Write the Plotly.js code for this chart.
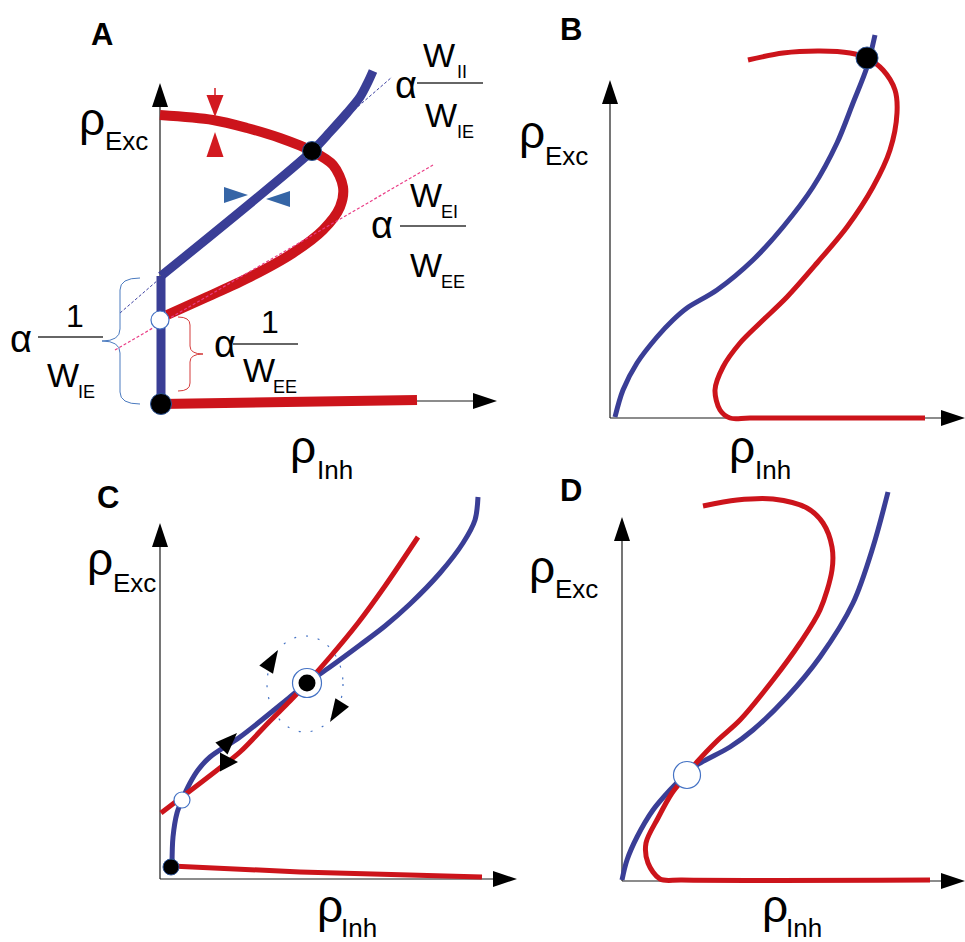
<!DOCTYPE html>
<html>
<head>
<meta charset="utf-8">
<script src="https://cdn.plot.ly/plotly-3.0.1.min.js"></script>
<style>html,body{margin:0;padding:0;background:#fff}</style>
</head>
<body>
<div id="fig" style="width:965px;height:942px"></div>
<script>
// Phase-plane sketches of the E/I rate model: rho_Inh on x, rho_Exc on y.
// All values are in schematic rate units (origin of each panel = 0).

// ---- Panel A: threshold-linear nullclines ----
const aExcNullInh  = [0, 53, 87, 120, 152, 173, 183, 180, 163, 133, 90, 47, 7];
const aExcNullExc  = [286, 281, 273, 263, 250, 236, 214, 194, 171, 148, 124, 104, 86];
const aExcFloorInh = [1, 257];
const aExcFloorExc = [-3, 1];
const aInhWallInh  = [1, 1];
const aInhWallExc  = [-3, 125];
const aInhNullInh  = [1, 152, 170, 187, 200, 208, 213];
const aInhNullExc  = [125, 250, 269, 288, 304, 319, 330];
const aInhSlopeInh = [-40, 232];   // slope alpha*W_II/W_IE
const aInhSlopeExc = [88, 324];
const aExcSlopeInh = [-45, 273];   // slope alpha*W_EI/W_EE
const aExcSlopeExc = [51, 236];
const aQuietInh    = [1];
const aQuietExc    = [-3];
const aActiveInh   = [152];
const aActiveExc   = [250];
const aSaddleInh   = [0];
const aSaddleExc   = [81];

// ---- Panel B: single high-activity fixed point ----
const bInhNullInh = [5, 13, 27, 47, 63, 77, 107, 143, 173, 203, 227, 243, 257, 265];
const bInhNullExc = [1, 28, 55, 81, 98, 110, 128, 158, 191, 231, 275, 315, 351, 383];
const bExcNullInh = [138, 173, 210, 240, 257, 273, 285, 287, 280, 263, 237, 207, 177, 150, 130, 113, 105, 110, 120, 140, 315];
const bExcNullExc = [358, 365, 367, 365, 360, 348, 328, 305, 268, 231, 191, 155, 121, 95, 75, 51, 28, 8, 0, 0, 0];
const bStableInh  = [257];
const bStableExc  = [360];

// ---- Panel C: low state, saddle and focus ----
const cExcFloorInh = [11, 140, 322];
const cExcFloorExc = [13, 7, 2];
const cExcNullInh  = [1, 22, 56, 80, 110, 130, 147, 170, 198, 225, 258];
const cExcNullExc  = [66, 82, 108, 127, 158, 178, 196, 222, 256, 293, 342];
const cInhNullInh  = [12, 13, 17, 22, 30, 38, 50, 80, 130, 147, 170, 200, 225, 250, 280, 303, 315, 318];
const cInhNullExc  = [14, 42, 66, 79, 96, 109, 122, 142, 182, 196, 212, 234, 253, 275, 306, 336, 359, 382];
const cLowInh      = [11];
const cLowExc      = [12];
const cSaddleInh   = [22];
const cSaddleExc   = [79];
const cFocusInh    = [147];
const cFocusExc    = [196];

// ---- Panel D: single unstable crossing ----
const dInhNullInh = [0, 5, 15, 31, 48, 61, 75, 108, 131, 165, 198, 231, 251, 266];
const dInhNullExc = [1, 21, 44, 71, 91, 104, 116, 134, 151, 184, 224, 278, 334, 389];
const dExcNullInh = [81, 115, 151, 185, 201, 210, 210, 198, 178, 151, 118, 96, 75, 63, 50, 36, 24, 26, 38, 60, 308];
const dExcNullExc = [375, 381, 382, 373, 358, 334, 311, 271, 238, 201, 161, 141, 119, 104, 88, 63, 38, 18, 2, 1, 1];
const dUnstableInh = [65];
const dUnstableExc = [106];

// ---------------------------------------------------------------
const W = 965, H = 942;
const FONT = '"Liberation Sans", Arial, sans-serif';
const RED = '#cc141b', BLUE = '#3a3e96', RING = '#4472c4', EDGE = '#2f5597';

// Each panel: its axes, the pixel origin, its box on the page, axis arrow tips.
const frames = {
  A: {xa: 'x',  ya: 'y',  ox: 160, oy: 401, box: [0, 505, 0, 470],     xTip: 337, yTip: 318},
  B: {xa: 'x2', ya: 'y2', ox: 610, oy: 418, box: [505, 965, 0, 470],   xTip: 355, yTip: 338},
  C: {xa: 'x3', ya: 'y3', ox: 160, oy: 879, box: [0, 520, 470, 942],   xTip: 357, yTip: 356},
  D: {xa: 'x4', ya: 'y4', ox: 622, oy: 881, box: [520, 965, 470, 942], xTip: 343, yTip: 364}
};

const traces = [], shapes = [], annotations = [];

function curve(f, xs, ys, color, width, shape, dash) {
  traces.push({
    type: 'scatter', mode: 'lines', x: xs, y: ys, xaxis: f.xa, yaxis: f.ya,
    hoverinfo: 'skip',
    line: {color: color, width: width, shape: shape || 'spline', smoothing: 0.9, dash: dash || 'solid'}
  });
}
function points(f, xs, ys, size, fill, edge, edgeW) {
  traces.push({
    type: 'scatter', mode: 'markers', x: xs, y: ys, xaxis: f.xa, yaxis: f.ya,
    hoverinfo: 'skip', cliponaxis: false, opacity: 1,
    marker: {symbol: 'circle', size: size, color: fill, opacity: 1, line: {color: edge, width: edgeW}}
  });
}
function tri(f, tip, ang, len, hw, color) {
  const a = ang * Math.PI / 180, c = Math.cos(a), s = Math.sin(a);
  const bx = tip[0] - len * c, by = tip[1] - len * s;
  const p = [[tip[0], tip[1]], [bx - hw * s, by + hw * c], [bx + hw * s, by - hw * c]];
  shapes.push({
    type: 'path', xref: f.xa, yref: f.ya, layer: 'above',
    path: 'M' + p.map(q => q[0].toFixed(1) + ',' + q[1].toFixed(1)).join('L') + 'Z',
    fillcolor: color, line: {width: 0}
  });
}
function segment(f, x0, y0, x1, y1, color, width, layer) {
  shapes.push({type: 'line', xref: f.xa, yref: f.ya, x0: x0, y0: y0, x1: x1, y1: y1,
    line: {color: color, width: width}, layer: layer || 'above'});
}
function axesArrows(f) {
  segment(f, 0, 0, 0, f.yTip - 20, '#1a1a1a', 1.2, 'below');
  segment(f, 0, 0, f.xTip - 20, 0, '#1a1a1a', 1.2, 'below');
  tri(f, [0, f.yTip], 90, 24, 8, '#000');
  tri(f, [f.xTip, 0], 0, 24, 8, '#000');
}
function brace(f, xe, xs, xt, yt, ym, yb, d, color) {
  const path = 'M' + xe + ',' + yt + ' Q' + xs + ',' + yt + ' ' + xs + ',' + (yt - d) +
    ' L' + xs + ',' + (ym + d) + ' Q' + xs + ',' + ym + ' ' + xt + ',' + ym +
    ' Q' + xs + ',' + ym + ' ' + xs + ',' + (ym - d) +
    ' L' + xs + ',' + (yb + d) + ' Q' + xs + ',' + yb + ' ' + xe + ',' + yb;
  shapes.push({type: 'path', xref: f.xa, yref: f.ya, path: path, fillcolor: 'rgba(0,0,0,0)',
    line: {color: color, width: 1}, layer: 'above'});
}
function fracLine(x0, x1, y) {
  shapes.push({type: 'line', xref: 'paper', yref: 'paper', x0: x0 / W, x1: x1 / W,
    y0: 1 - y / H, y1: 1 - y / H, line: {color: '#333', width: 1.5}});
}
// text placed by its left edge (or centre) and its baseline, in page pixels
function label(text, left, base, size, anchor) {
  annotations.push({
    xref: 'paper', yref: 'paper', x: left / W, y: 1 - (base - 0.347 * size) / H,
    xanchor: anchor || 'left', yanchor: 'middle', text: text, showarrow: false,
    borderpad: 0, borderwidth: 0, font: {family: FONT, size: size, color: '#000'}
  });
}
function rhoLabel(sub, left, base, subLeft, subBase) {
  label('ρ', left, base, 46);
  label(sub, subLeft, subBase, 26);
}

// ---- Panel A ----
const A = frames.A;
axesArrows(A);
curve(A, aExcFloorInh, aExcFloorExc, RED, 10, 'linear');
curve(A, aExcNullInh, aExcNullExc, RED, 10);
curve(A, aInhWallInh, aInhWallExc, BLUE, 9, 'linear');
curve(A, aInhNullInh, aInhNullExc, BLUE, 9);
curve(A, aInhSlopeInh, aInhSlopeExc, '#3b3fa0', 1, 'linear', '3px,2px');
curve(A, aExcSlopeInh, aExcSlopeExc, '#ea3d86', 1.2, 'linear', '3px,2px');
points(A, aQuietInh, aQuietExc, 21, '#000000', EDGE, 1);
points(A, aActiveInh, aActiveExc, 19, '#000000', EDGE, 1);
points(A, aSaddleInh, aSaddleExc, 18, '#ffffff', RING, 1.2);
// flow directions across the nullclines
segment(A, 55, 306, 55, 313, '#d21a20', 1.5);
tri(A, [55, 284], -90, 22, 8.5, '#d21a20');
tri(A, [55, 269], 90, 25, 8.5, '#d21a20');
tri(A, [88, 206], 0, 24, 8, '#3565a6');
tri(A, [106, 202], 180, 24, 8, '#3565a6');
brace(A, -20, -40, -58, 123, 60, -3, 12, '#4a7abf');
brace(A, 18, 30, 43, 84, 47, 10, 8, '#d43a3a');

label('<b>A</b>', 102, 45, 31, 'center');
rhoLabel('Exc', 79, 135, 105, 150);
rhoLabel('Inh', 290, 463, 317, 479);
// alpha W_II / W_IE
label('α', 395, 98, 38);
label('W', 423, 67, 34); label('II', 457, 78, 18);
fracLine(417, 483, 83);
label('W', 425, 127, 34); label('IE', 457, 138, 18);
// alpha W_EI / W_EE
label('α', 371, 238, 38);
label('W', 410, 207, 34); label('EI', 441, 218, 18);
fracLine(400, 466, 226);
label('W', 410, 277, 34); label('EE', 441, 288, 18);
// alpha 1 / W_IE
label('α', 10, 352, 38);
label('1', 75, 327, 32, 'center');
fracLine(38, 103, 337);
label('W', 47, 387, 34); label('IE', 78, 398, 18);
// alpha 1 / W_EE
label('α', 214, 357, 38);
label('1', 270, 333, 32, 'center');
fracLine(233, 298, 344);
label('W', 243, 382, 34); label('EE', 273, 393, 18);

// ---- Panel B ----
const B = frames.B;
axesArrows(B);
curve(B, bInhNullInh, bInhNullExc, BLUE, 5);
curve(B, bExcNullInh, bExcNullExc, RED, 5);
points(B, bStableInh, bStableExc, 22, '#000000', EDGE, 1);
label('<b>B</b>', 571, 40, 31, 'center');
rhoLabel('Exc', 519, 148, 545, 165);
rhoLabel('Inh', 729, 463, 755, 479);

// ---- Panel C ----
const C = frames.C;
shapes.push({type: 'circle', xref: C.xa, yref: C.ya, x0: 107, x1: 183, y0: 147, y1: 243,
  line: {color: RING, width: 1.2, dash: '2px,10px'}, layer: 'below'});
axesArrows(C);
curve(C, cExcFloorInh, cExcFloorExc, RED, 5, 'linear');
curve(C, cInhNullInh, cInhNullExc, BLUE, 5);
curve(C, cExcNullInh, cExcNullExc, RED, 5);
points(C, cLowInh, cLowExc, 16, '#000000', EDGE, 1);
points(C, cSaddleInh, cSaddleExc, 16, '#ffffff', RING, 1.2);
points(C, cFocusInh, cFocusExc, 29, '#ffffff', RING, 1.2);
points(C, cFocusInh, cFocusExc, 17, '#000000', '#000000', 0);
tri(C, [118, 229], 59, 23, 8, '#000');
tri(C, [170, 157], 238, 23, 8, '#000');
tri(C, [77, 146], 45, 22, 8.5, '#000');
tri(C, [78, 117], 0, 18, 9.5, '#000');
label('<b>C</b>', 108, 508, 31, 'center');
rhoLabel('Exc', 87, 575, 113, 592);
rhoLabel('Inh', 317, 922, 341, 937);

// ---- Panel D ----
const D = frames.D;
axesArrows(D);
curve(D, dInhNullInh, dInhNullExc, BLUE, 5);
curve(D, dExcNullInh, dExcNullExc, RED, 5);
points(D, dUnstableInh, dUnstableExc, 27, '#ffffff', RING, 1.2);
label('<b>D</b>', 571, 501, 31, 'center');
rhoLabel('Exc', 529, 583, 555, 598);
rhoLabel('Inh', 762, 922, 786, 937);

// ---- layout ----
const layout = {
  width: W, height: H, margin: {l: 0, r: 0, t: 0, b: 0}, autosize: false,
  paper_bgcolor: '#fff', plot_bgcolor: 'rgba(0,0,0,0)', showlegend: false,
  shapes: shapes, annotations: annotations
};
Object.values(frames).forEach(f => {
  const [L, R, T, Bt] = f.box;
  const xName = 'xaxis' + f.xa.slice(1), yName = 'yaxis' + f.ya.slice(1);
  layout[xName] = {domain: [L / W, R / W], range: [L - f.ox, R - f.ox], visible: false,
    anchor: f.ya, fixedrange: true};
  layout[yName] = {domain: [1 - Bt / H, 1 - T / H], range: [f.oy - Bt, f.oy - T], visible: false,
    anchor: f.xa, fixedrange: true};
});

Plotly.newPlot('fig', traces, layout, {staticPlot: true, displayModeBar: false});
</script>
</body>
</html>
